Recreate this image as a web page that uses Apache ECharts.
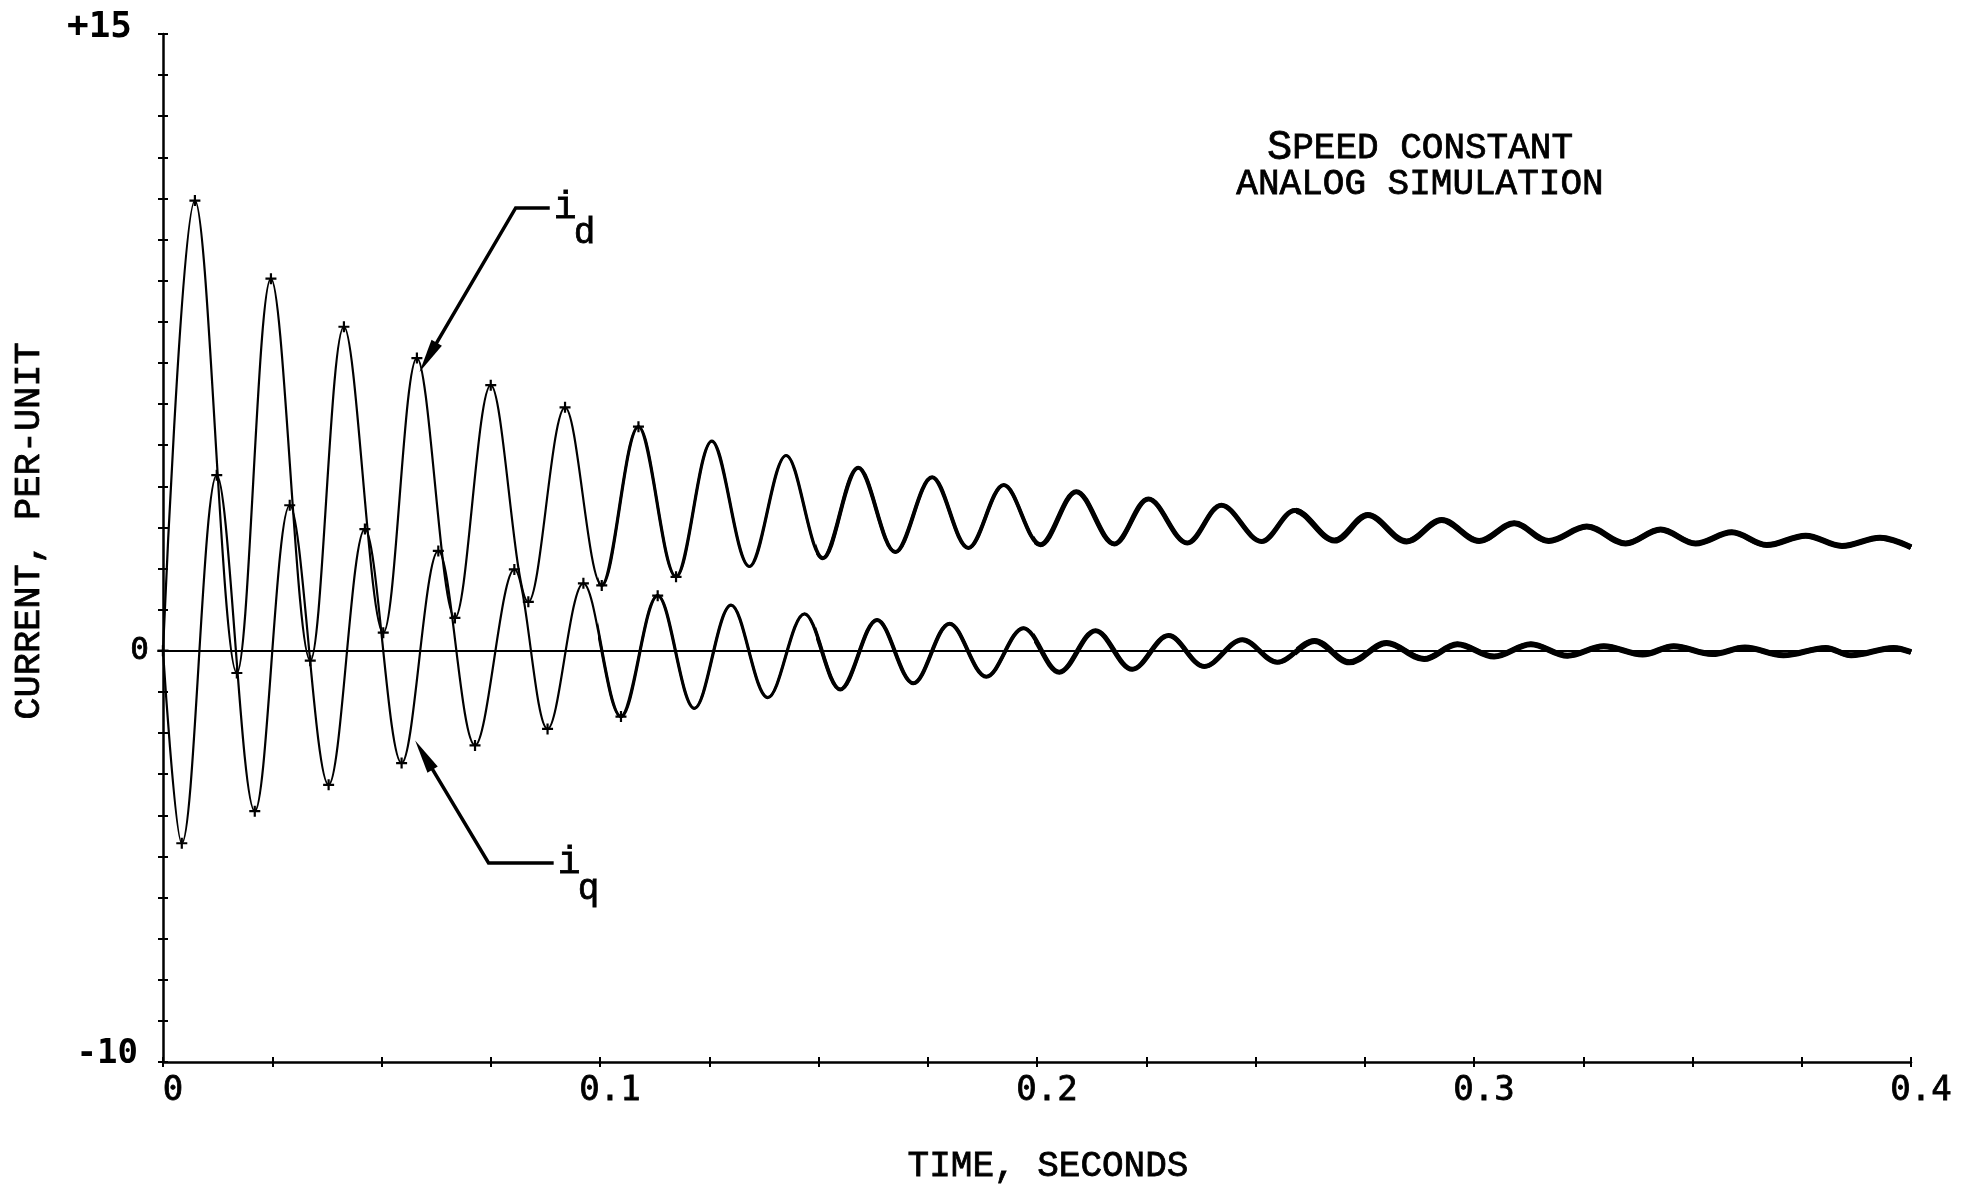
<!DOCTYPE html>
<html>
<head>
<meta charset="utf-8">
<script src="https://cdn.jsdelivr.net/npm/echarts@6/dist/echarts.min.js"></script>
<style>
  html, body { margin: 0; padding: 0; background: #fff; }
  #main { width: 1975px; height: 1189px; }
</style>
</head>
<body>
<div id="main"></div>
<script>
// peaks and troughs: [time in seconds, current in per-unit]
const idPoints = [
  [0, 0], [0.0073, 10.95], [0.0169, -0.54], [0.0247, 9.05], [0.0337, -0.24],
  [0.0414, 7.88], [0.0504, 0.44], [0.0581, 7.12], [0.0668, 0.80], [0.0750, 6.46],
  [0.0836, 1.19], [0.0920, 5.92], [0.1004, 1.59], [0.1088, 5.45], [0.1174, 1.80],
  [0.1256, 5.10], [0.1342, 2.05], [0.1426, 4.75], [0.1510, 2.25], [0.1591, 4.45],
  [0.1676, 2.40], [0.1760, 4.22], [0.1843, 2.50], [0.1924, 4.03], [0.2008, 2.58],
  [0.2090, 3.87], [0.2177, 2.60], [0.2255, 3.69], [0.2344, 2.62], [0.2422, 3.54],
  [0.2514, 2.66], [0.2590, 3.41], [0.2681, 2.68], [0.2757, 3.30], [0.2846, 2.66],
  [0.2926, 3.18], [0.3012, 2.67], [0.3092, 3.10], [0.3171, 2.67], [0.3258, 3.02],
  [0.3347, 2.61], [0.3427, 2.95], [0.3507, 2.61], [0.3590, 2.88], [0.3670, 2.57],
  [0.3759, 2.80], [0.3842, 2.55], [0.3929, 2.75], [0.4000, 2.52]
]
const iqPoints = [
  [0, 0], [0.0043, -4.68], [0.0123, 4.27], [0.0210, -3.90], [0.0290, 3.54],
  [0.0379, -3.26], [0.0462, 2.96], [0.0546, -2.73], [0.0630, 2.43], [0.0714, -2.30],
  [0.0804, 1.98], [0.0880, -1.90], [0.0962, 1.64], [0.1048, -1.60], [0.1132, 1.34],
  [0.1216, -1.40], [0.1300, 1.11], [0.1384, -1.14], [0.1468, 0.90], [0.1550, -0.94],
  [0.1634, 0.75], [0.1717, -0.79], [0.1800, 0.66], [0.1884, -0.63], [0.1969, 0.55],
  [0.2051, -0.52], [0.2134, 0.49], [0.2218, -0.45], [0.2301, 0.37], [0.2383, -0.38],
  [0.2470, 0.27], [0.2550, -0.28], [0.2635, 0.24], [0.2715, -0.28], [0.2800, 0.19],
  [0.2886, -0.20], [0.2962, 0.16], [0.3046, -0.14], [0.3130, 0.16], [0.3214, -0.12],
  [0.3297, 0.11], [0.3386, -0.09], [0.3457, 0.11], [0.3545, -0.08], [0.3620, 0.08],
  [0.3708, -0.11], [0.3805, 0.07], [0.3863, -0.11], [0.3960, 0.07], [0.4000, -0.03]
]
const xLabels = ["0", "0.1", "0.2", "0.3", "0.4"]
const yLabels = { "15": "{top|+15}", "0": "{mid|0}", "-10": "{bot|-10}" }

// leader lines: text end, knee and arrow tip in data coords
const idNote = { sub: "d", end: [0.0885, 10.77], knee: [0.0807, 10.77], tip: [0.0587, 6.78] }
const iqNote = { sub: "q", end: [0.0894, -5.16], knee: [0.0745, -5.16], tip: [0.0577, -2.18] }

// the plotted trace gets heavier to the right (marks crowd together)
const traceStart = [0, 0.1, 0.15, 0.2, 0.26]
const traceWidth = [2.2, 3.2, 4, 5, 6]

const typeFont = '"Courier New", "Liberation Mono", monospace'
const numFont = '"DejaVu Sans Mono", monospace'
const plus = "path://M4,0h2v4h4v2h-4v4h-2v-4h-4v-2h4z"

const chartW = 1975
const gLeft = 163, gRight = 64, gTop = 34, gBottom = 127
const pxPerSec = (chartW - gLeft - gRight) / 0.4

let myChart = echarts.init(document.getElementById("main"), null, { renderer: "canvas" })

let grids = [], xAxes = [], yAxes = [], series = []

// one grid per trace weight, each clipped to start at its own time
traceStart.forEach((t0, g) => {
  grids.push({ left: gLeft + t0 * pxPerSec, right: gRight, top: gTop, bottom: gBottom, outerBoundsMode: "none" })
  xAxes.push({ type: "value", gridIndex: g, min: t0, max: 0.4, show: false })
  yAxes.push({ type: "value", gridIndex: g, min: -10, max: 15, show: false })
  ;[["id", idPoints], ["iq", iqPoints]].forEach((item) => {
    series.push({
      name: item[0] + g,
      type: "line",
      xAxisIndex: g,
      yAxisIndex: g,
      smooth: 0.35,
      clip: true,
      data: item[1],
      showSymbol: g === 0,
      showAllSymbol: true,
      symbol: (v) => (v[0] < 0.12 ? plus : "none"),
      symbolSize: 11,
      itemStyle: { color: "#000" },
      lineStyle: { color: "#000", width: traceWidth[g] },
      silent: true,
      z: 3,
    })
  })
})

series[0].markLine = {
  silent: true,
  symbol: "none",
  label: { show: false },
  lineStyle: { color: "#000", width: 2, type: "solid" },
  data: [{ yAxis: 0 }],
}

// visible axes sit on grid 0; a second copy draws the inner half of each "+" tick
const xFmt = (v) => {
  const k = Math.round(v * 40)
  return k % 4 === 0 ? "{n|" + xLabels[k / 4] + "}" : ""
}
const xBase = { type: "value", gridIndex: 0, min: 0, max: 0.4, interval: 0.025, splitLine: { show: false } }
const yBase = { type: "value", gridIndex: 0, min: -10, max: 15, interval: 1, splitLine: { show: false } }
const tick = { show: true, length: 5, lineStyle: { color: "#000", width: 2 } }
const ink = { color: "#000", textBorderColor: "#000", textBorderWidth: 0.8 }

xAxes.push(Object.assign({}, xBase, {
  show: true, position: "bottom",
  axisLine: { show: true, onZero: false, lineStyle: { color: "#000", width: 2.5 } },
  axisTick: tick,
  axisLabel: {
    formatter: xFmt, margin: 12, color: "#000", showMinLabel: true, showMaxLabel: true,
    rich: { n: Object.assign({ fontFamily: numFont, fontSize: 34, padding: [0, 0, 0, 20] }, ink) },
  },
}))
xAxes.push(Object.assign({}, xBase, {
  show: true, position: "bottom",
  axisLine: { show: false, onZero: false },
  axisTick: Object.assign({}, tick, { inside: true }),
  axisLabel: { show: false },
}))
yAxes.push(Object.assign({}, yBase, {
  show: true, position: "left",
  axisLine: { show: true, onZero: false, lineStyle: { color: "#000", width: 2.5 } },
  axisTick: tick,
  axisLabel: {
    formatter: (v) => yLabels[String(Math.round(v))] || "",
    margin: 14, color: "#000", showMinLabel: true, showMaxLabel: true,
    rich: {
      top: { fontFamily: numFont, fontSize: 36, fontWeight: "bold", color: "#000", padding: [0, 17, 12, 0] },
      mid: Object.assign({ fontFamily: numFont, fontSize: 31 }, ink),
      bot: { fontFamily: numFont, fontSize: 34, fontWeight: "bold", color: "#000", padding: [0, 11, 16, 0] },
    },
  },
}))
yAxes.push(Object.assign({}, yBase, {
  show: true, position: "left",
  axisLine: { show: false, onZero: false },
  axisTick: Object.assign({}, tick, { inside: true }),
  axisLabel: { show: false },
}))

myChart.setOption({
  backgroundColor: "#fff",
  animation: false,
  grid: grids,
  xAxis: xAxes,
  yAxis: yAxes,
  series: series,
})

// typed text looks heavier than the plain mono face, so give it a thin outline
const typed = { fontFamily: typeFont, fill: "#000", stroke: "#000", lineWidth: 0.8 }

function note(n) {
  const end = myChart.convertToPixel({ gridIndex: 0 }, n.end)
  const knee = myChart.convertToPixel({ gridIndex: 0 }, n.knee)
  const tip = myChart.convertToPixel({ gridIndex: 0 }, n.tip)
  const dx = tip[0] - knee[0], dy = tip[1] - knee[1]
  const len = Math.sqrt(dx * dx + dy * dy)
  const ux = dx / len, uy = dy / len
  const L = 34, w = 6
  const bx = tip[0] - ux * L, by = tip[1] - uy * L
  return [
    { type: "polyline", shape: { points: [end, knee, [bx + ux * 6, by + uy * 6]] }, style: { stroke: "#000", lineWidth: 3.5, fill: null } },
    { type: "polygon", shape: { points: [tip, [bx - uy * w, by + ux * w], [bx + uy * w, by - ux * w]] }, style: { fill: "#000" } },
    { type: "text", x: end[0] + 4, y: end[1], style: Object.assign({ text: "i", fontSize: 38, align: "left", verticalAlign: "middle" }, typed) },
    { type: "text", x: end[0] + 24, y: end[1] + 26, style: Object.assign({ text: n.sub, fontSize: 36, align: "left", verticalAlign: "middle" }, typed) },
  ]
}

myChart.setOption({
  graphic: [
    ...note(idNote),
    ...note(iqNote),
    {
      type: "text", x: 1420, y: 166,
      style: Object.assign({
        text: "{b|S}PEED CONSTANT\nANALOG SIMULATION",
        rich: { b: { fontSize: 42, fontFamily: typeFont, fill: "#000", stroke: "#000", lineWidth: 0.8 } },
        fontSize: 36, lineHeight: 36, align: "center", verticalAlign: "middle",
      }, typed),
    },
    {
      type: "text", x: 1048, y: 1166,
      style: Object.assign({ text: "TIME, SECONDS", fontSize: 36, align: "center", verticalAlign: "middle" }, typed),
    },
    {
      type: "text", x: 29, y: 531, rotation: Math.PI / 2,
      style: Object.assign({ text: "CURRENT, PER-UNIT", fontSize: 37, align: "center", verticalAlign: "middle" }, typed),
    },
  ],
})

window.addEventListener("resize", () => {
  myChart.resize()
})
</script>
</body>
</html>
